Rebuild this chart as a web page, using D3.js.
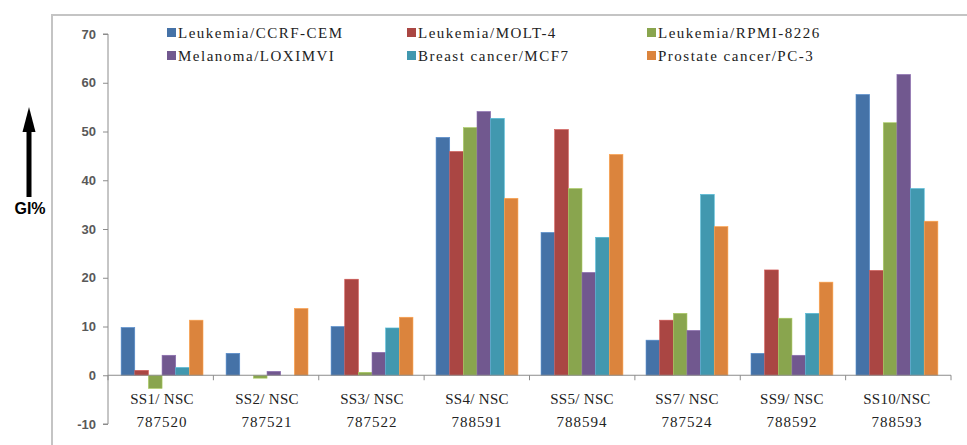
<!DOCTYPE html>
<html>
<head>
<meta charset="utf-8">
<script src="https://cdn.jsdelivr.net/npm/d3@7"></script>
<style>
    body { margin: 0; background: #fff; }
    svg { display: block; }
    .legend text, .cat text { font-family: "Liberation Serif", "DejaVu Serif", serif; fill: #222; }
    .y.axis text { font-family: "Liberation Sans", Arial, sans-serif; font-weight: bold; fill: #595959; font-size: 13px; }
</style>
</head>
<body>
<div id="chart"></div>
<script>
// chart values
var catLine1 = ["SS1/ NSC", "SS2/ NSC", "SS3/ NSC", "SS4/ NSC", "SS5/ NSC", "SS7/ NSC", "SS9/ NSC", "SS10/NSC"];
var catLine2 = ["787520", "787521", "787522", "788591", "788594", "787524", "788592", "788593"];
var seriesNames = ["Leukemia/CCRF-CEM", "Leukemia/MOLT-4", "Leukemia/RPMI-8226",
                   "Melanoma/LOXIMVI", "Breast cancer/MCF7", "Prostate cancer/PC-3"];
var ccrfCem = [9.8, 4.5, 10.0, 48.8, 29.3, 7.2, 4.5, 57.6];
var molt4 = [1.0, 0, 19.7, 45.9, 50.4, 11.3, 21.6, 21.5];
var rpmi8226 = [-2.7, -0.6, 0.6, 50.8, 38.3, 12.7, 11.7, 51.8];
var loxImvi = [4.1, 0.8, 4.7, 54.1, 21.1, 9.2, 4.1, 61.7];
var mcf7 = [1.6, 0, 9.7, 52.7, 28.3, 37.1, 12.7, 38.3];
var pc3 = [11.3, 13.7, 11.9, 36.3, 45.3, 30.5, 19.1, 31.6];
var yTicks = [-10, 0, 10, 20, 30, 40, 50, 60, 70];

var seriesValues = [ccrfCem, molt4, rpmi8226, loxImvi, mcf7, pc3];
var colors = ["#4572A7", "#AA4643", "#89A54E", "#71588F", "#4198AF", "#DB843D"];

var W = 967, H = 445;
var margin = {top: 34, right: 16, bottom: 21, left: 108};
var width = W - margin.left - margin.right,
    height = H - margin.top - margin.bottom;

var svg = d3.select("#chart").append("svg")
    .attr("width", W)
    .attr("height", H);

// outer frame (top and left edges visible)
svg.append("rect")
    .attr("x", 52).attr("y", 15)
    .attr("width", W).attr("height", H)
    .attr("fill", "none")
    .attr("stroke", "#c4c4c4")
    .attr("stroke-width", 2);

var g = svg.append("g")
    .attr("transform", "translate(" + margin.left + "," + margin.top + ")");

var x0 = d3.scaleBand()
    .domain(d3.range(catLine1.length))
    .range([0, width])
    .paddingInner(0.22)
    .paddingOuter(0.125);

var x1 = d3.scaleBand()
    .domain(d3.range(seriesNames.length))
    .range([0, x0.bandwidth()]);

var y = d3.scaleLinear()
    .domain([-10, 70])
    .range([height, 0]);

// y axis
var yAxis = d3.axisLeft(y)
    .tickValues(yTicks)
    .tickFormat(function(d){ return String(d); })
    .tickSize(5)
    .tickPadding(7);

var ya = g.append("g")
    .attr("class", "y axis")
    .call(yAxis);
ya.select(".domain").attr("stroke", "#8c8c8c").attr("d", "M-5," + y(-10) + "H0V" + y(70) + "H-5");
ya.selectAll(".tick line").attr("stroke", "#8c8c8c");

// bars
var groups = g.selectAll(".grp")
    .data(d3.range(catLine1.length))
    .enter().append("g")
    .attr("class", "grp")
    .attr("transform", function(i){ return "translate(" + x0(i) + ",0)"; });

groups.selectAll("rect")
    .data(function(i){ return seriesValues.map(function(s, k){ return {k: k, v: s[i]}; }); })
    .enter().append("rect")
    .attr("x", function(d){ return x1(d.k); })
    .attr("width", x1.bandwidth())
    .attr("y", function(d){ return y(Math.max(0, d.v)); })
    .attr("height", function(d){ return Math.abs(y(d.v) - y(0)); })
    .attr("fill", function(d){ return colors[d.k]; })
    .attr("stroke", function(d){ return d3.color(colors[d.k]).brighter(0.6); })
    .attr("stroke-width", 0.6);

// category axis along zero
var bounds = d3.range(catLine1.length + 1).map(function(i){ return i * width / catLine1.length; });
g.append("line")
    .attr("x1", 0).attr("x2", width)
    .attr("y1", y(0)).attr("y2", y(0))
    .attr("stroke", "#8c8c8c");
g.selectAll(".ctick")
    .data(bounds)
    .enter().append("line")
    .attr("class", "ctick")
    .attr("x1", function(d){ return d; }).attr("x2", function(d){ return d; })
    .attr("y1", y(0)).attr("y2", y(0) + 5)
    .attr("stroke", "#8c8c8c");

var cat = g.append("g").attr("class", "cat");
cat.selectAll(".l1")
    .data(catLine1)
    .enter().append("text")
    .attr("class", "l1")
    .attr("x", function(d, i){ return x0(i) + x0.bandwidth() / 2; })
    .attr("y", y(0) + 29)
    .attr("text-anchor", "middle")
    .style("font-size", "15px")
    .style("letter-spacing", "0.3px")
    .text(function(d){ return d; });
cat.selectAll(".l2")
    .data(catLine2)
    .enter().append("text")
    .attr("class", "l2")
    .attr("x", function(d, i){ return x0(i) + x0.bandwidth() / 2; })
    .attr("y", y(0) + 52)
    .attr("text-anchor", "middle")
    .style("font-size", "15px")
    .style("letter-spacing", "1px")
    .text(function(d){ return d; });

// legend, 3 columns x 2 rows
var legX = [167, 407, 647], legY = [33, 56];
var legend = svg.append("g").attr("class", "legend");
var items = legend.selectAll(".item")
    .data(seriesNames)
    .enter().append("g")
    .attr("class", "item")
    .attr("transform", function(d, i){ return "translate(" + legX[i % 3] + "," + legY[Math.floor(i / 3)] + ")"; });
items.append("rect")
    .attr("x", 0).attr("y", -5)
    .attr("width", 9).attr("height", 9)
    .attr("fill", function(d, i){ return colors[i]; });
items.append("text")
    .attr("x", 11)
    .attr("y", 5)
    .style("font-size", "15px")
    .style("letter-spacing", "1.5px")
    .text(function(d){ return d; });

// GI% arrow and label
svg.append("path")
    .attr("d", "M29,197V128")
    .attr("stroke", "#000")
    .attr("stroke-width", 5);
svg.append("path")
    .attr("d", "M22.5,132L29,107L35.5,132Z")
    .attr("fill", "#000");
svg.append("text")
    .attr("x", 30)
    .attr("y", 214)
    .attr("text-anchor", "middle")
    .style("font-family", "'Liberation Sans', Arial, sans-serif")
    .style("font-weight", "bold")
    .style("font-size", "16px")
    .text("GI%");
</script>
</body>
</html>
